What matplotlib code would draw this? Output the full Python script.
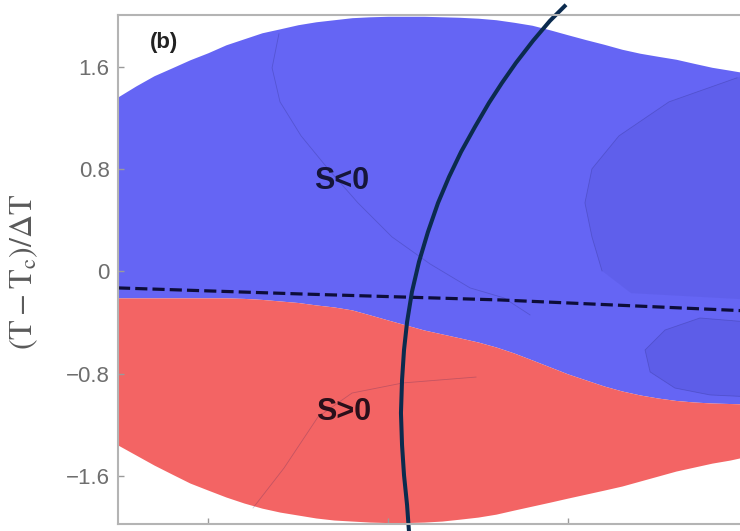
import matplotlib
matplotlib.use("Agg")
import matplotlib.pyplot as plt

plt.rcParams["mathtext.fontset"] = "stix"

# shared abscissa for the region boundaries (x tick labels are cut off in the source)
x_edge = [0.5, 0.6, 0.7, 0.8, 0.9, 1.0, 1.1, 1.2, 1.3, 1.4, 1.5, 1.6,
          1.7, 1.8, 1.9, 2.0, 2.1, 2.2, 2.3, 2.4, 2.5, 2.6, 2.7, 2.8,
          2.9, 3.0, 3.1, 3.2, 3.3, 3.4, 3.5, 3.6, 3.7, 3.8, 3.9, 4.0]
y_top = [1.365, 1.451, 1.530, 1.592, 1.655, 1.710, 1.772, 1.819, 1.866, 1.897, 1.929, 1.952,
         1.968, 1.984, 1.991, 1.995, 1.995, 1.995, 1.991, 1.987, 1.980, 1.968, 1.948, 1.925,
         1.889, 1.850, 1.812, 1.776, 1.737, 1.706, 1.682, 1.659, 1.627, 1.596, 1.573, 1.549]
y_mid = [-0.207, -0.207, -0.207, -0.207, -0.207, -0.207, -0.207, -0.211, -0.219, -0.231, -0.243, -0.262,
         -0.278, -0.301, -0.340, -0.380, -0.419, -0.458, -0.489, -0.520, -0.552, -0.591, -0.638, -0.692,
         -0.747, -0.802, -0.849, -0.896, -0.935, -0.966, -0.990, -1.009, -1.021, -1.029, -1.033, -1.037]
y_bot = [-1.358, -1.436, -1.514, -1.585, -1.655, -1.710, -1.764, -1.811, -1.851, -1.882, -1.905, -1.928,
         -1.944, -1.952, -1.960, -1.964, -1.964, -1.960, -1.952, -1.937, -1.921, -1.898, -1.866, -1.835,
         -1.804, -1.772, -1.741, -1.710, -1.678, -1.639, -1.600, -1.561, -1.530, -1.499, -1.475, -1.444]

# dashed line
x_dash = [0.5, 1.511, 2.622, 4.0]
y_dash = [-0.129, -0.176, -0.223, -0.309]

# dark arc drawn over the plot
x_arc = [2.989, 2.900, 2.806, 2.711, 2.633, 2.561, 2.483, 2.406, 2.339, 2.278, 2.222,
         2.172, 2.133, 2.106, 2.089, 2.078, 2.072, 2.078, 2.089, 2.106, 2.122]
y_arc = [2.085, 1.960, 1.804, 1.631, 1.474, 1.318, 1.130, 0.935, 0.739, 0.536, 0.309,
         0.074, -0.160, -0.395, -0.614, -0.849, -1.107, -1.358, -1.593, -1.828, -2.141]

# faint contour lines inside the regions
contours = {
    "A": ([1.394, 1.356, 1.400, 1.517, 1.667, 1.833, 2.022, 2.233, 2.456, 2.644, 2.789],
          [1.858, 1.592, 1.326, 1.060, 0.802, 0.536, 0.270, 0.059, -0.129, -0.207, -0.340]),
    "B": ([3.939, 3.561, 3.283, 3.133, 3.094, 3.133, 3.189],
          [1.514, 1.326, 1.060, 0.802, 0.536, 0.270, 0.004]),
    "C": ([4.0, 3.733, 3.539, 3.428, 3.456, 3.594, 3.789, 4.0],
          [-0.395, -0.364, -0.458, -0.614, -0.786, -0.912, -0.966, -0.980]),
    "D": ([1.250, 1.422, 1.611, 1.800, 2.083, 2.489],
          [-1.850, -1.538, -1.138, -0.951, -0.872, -0.826]),
}

y_ticks = [-1.6, -0.8, 0, 0.8, 1.6]
y_ticklabels = ["\u22121.6", "\u22120.8", "0", "0.8", "1.6"]

BLUE = "#6565f4"
RED = "#f36464"
NAVY = "#0b2b4e"
GRAY = "#6e6e6e"
SANS = "Liberation Sans"

fig = plt.figure(figsize=(7.4, 5.31), dpi=100)
ax = fig.add_axes([118 / 740, 7 / 531, 630 / 740, 509 / 531])

ax.fill_between(x_edge, y_mid, y_top, color=BLUE, lw=0)
ax.fill_between(x_edge, y_bot, y_mid, color=RED, lw=0)

# slightly darker shading pockets on the right of the blue region
bx, by = contours["B"]
ax.fill(bx + [3.35, 4.0, 4.0], by + [-0.17, -0.22, 1.549], color="#0a0a60", alpha=0.06, lw=0)
cx, cy = contours["C"]
ax.fill(cx, cy, color="#0a0a60", alpha=0.08, lw=0)

for name, (lx, ly) in contours.items():
    ax.plot(lx, ly, color="#1a1a5a", lw=0.6, alpha=0.22)

ax.plot(x_dash, y_dash, color="#0d0d3a", lw=2.3, dashes=(3.8, 1.6))
ax.plot(x_arc, y_arc, color=NAVY, lw=2.9, clip_on=False, solid_capstyle="butt")

ax.text(1.744, 0.708, "S<0", fontsize=22, fontweight="bold", color="#15153a",
        family=SANS, ha="center", va="center")
ax.text(1.756, -1.099, "S>0", fontsize=22, fontweight="bold", color="#2a0f1a",
        family=SANS, ha="center", va="center")
ax.text(0.756, 1.788, "(b)", fontsize=16, fontweight="bold", color="#222222",
        family=SANS, ha="center", va="center")

ax.set_xlim(0.5, 4.0)
ax.set_ylim(-1.975, 2.005)
ax.set_xticks([1, 2, 3])
ax.set_yticks(y_ticks)
ax.set_yticklabels(y_ticklabels, family=SANS)
ax.tick_params(axis="both", direction="in", length=4, width=1, color="#9a9a9a",
               labelcolor=GRAY, labelsize=16, pad=6)
ax.tick_params(axis="x", labelbottom=False)
for sp in ax.spines.values():
    sp.set_color("#b4b4b4")
    sp.set_linewidth(1.5)

ax.set_ylabel(r"$\mathrm{(T-T_c)/\Delta T}$", fontsize=23, color="#5a5a5a")
ax.yaxis.set_label_coords(-0.124, 0.495)

fig.savefig("out.png", dpi=100)
